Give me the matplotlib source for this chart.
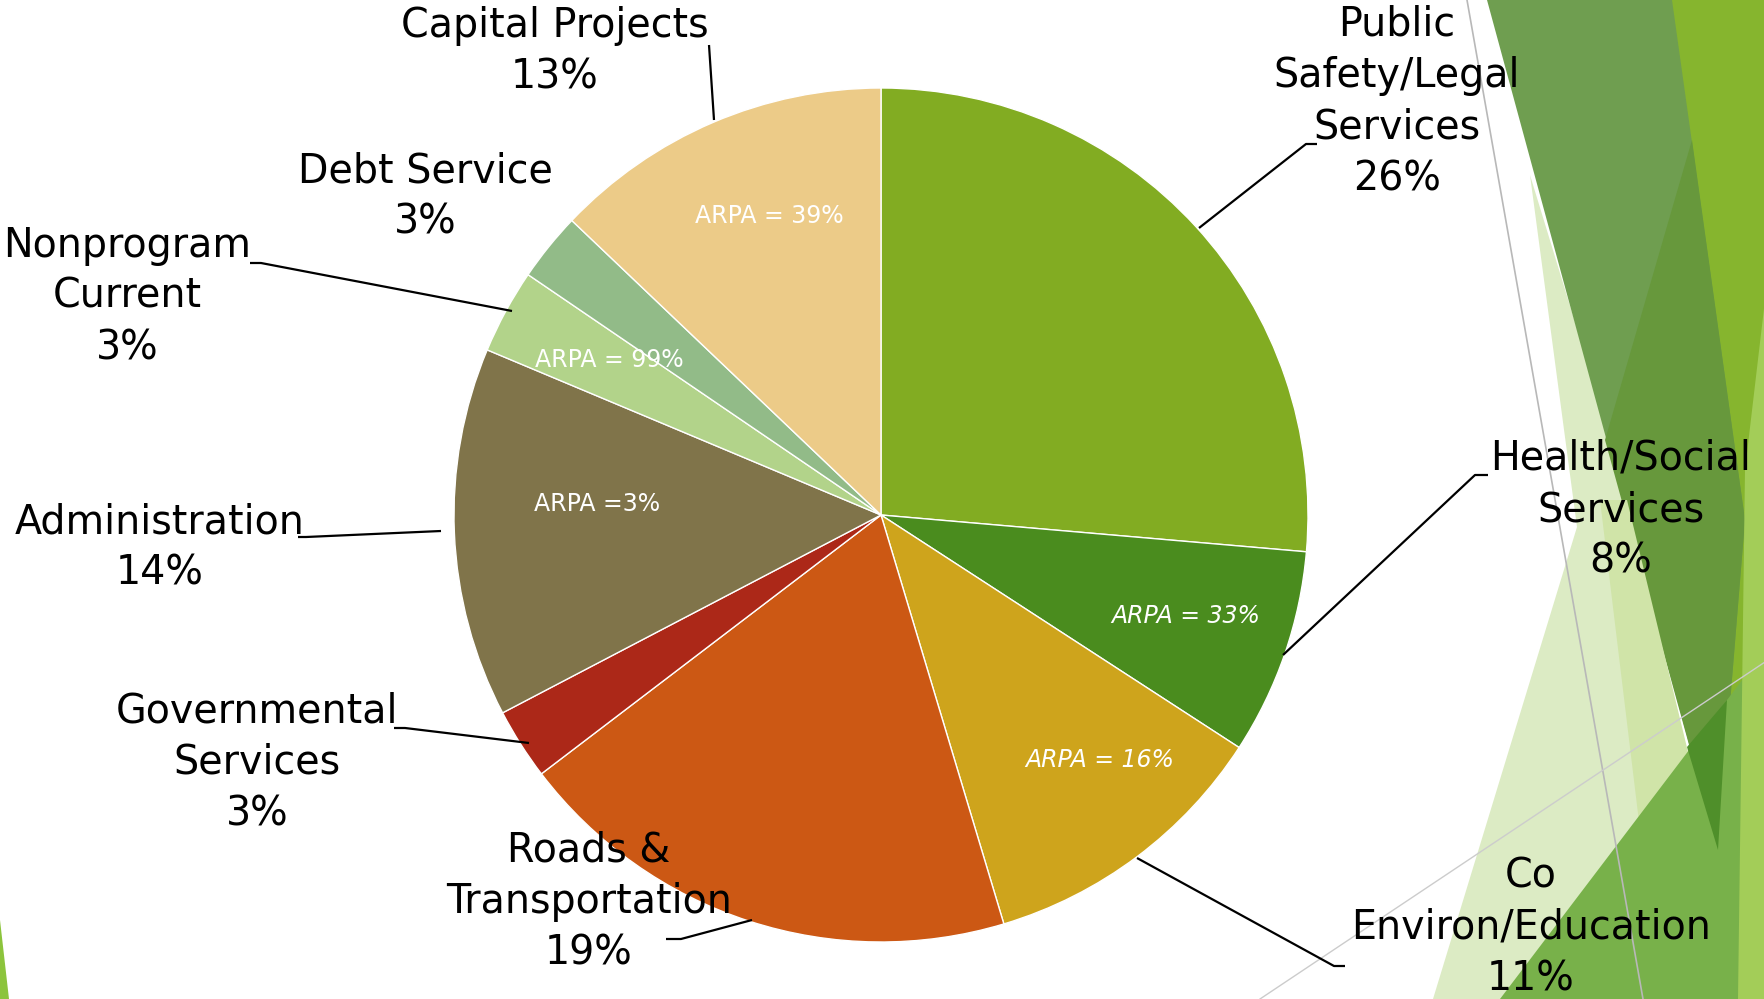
import matplotlib
matplotlib.use("Agg")
import matplotlib.pyplot as plt
from matplotlib.patches import Polygon

# budget shares (percent of total), clockwise from 12 o'clock
categories = ["Public\nSafety/Legal\nServices", "Health/Social\nServices",
              "Co\nEnviron/Education", "Roads &\nTransportation",
              "Governmental\nServices", "Administration", "Nonprogram\nCurrent",
              "Debt Service", "Capital Projects"]
shares = [26.4, 7.8, 11.2, 19.3, 2.7, 14.0, 3.2, 2.6, 12.9]
arpa_notes = ["", "ARPA = 33%", "ARPA = 16%", "", "", "ARPA =3%", "ARPA = 99%", "", "ARPA = 39%"]
arpa_italic = [False, True, True, False, False, False, False, False, False]
colors = ["#82ac22", "#4a8c1e", "#cea41c", "#cc5814", "#ac2818",
          "#80744a", "#b2d38a", "#92bb88", "#eccb88"]

W, H = 1765, 999
fig = plt.figure(figsize=(W / 100, H / 100), dpi=100)
ax = fig.add_axes([0, 0, 1, 1])
plt.rcParams['font.family'] = ['DejaVu Sans']


def Y(y):
    # pixel row (top-down) -> data y
    return H - y


# decorative background shapes on the right (slide theme), back to front
deco = [
    ([(1530, 175), (1660, 600), (1700, 999), (1433, 999), (1577, 527)], "#dcebc4"),
    ([(1660, 0), (1765, 0), (1765, 999), (1700, 999)], "#86b52e"),
    ([(1487, 0), (1672, 0), (1745, 520), (1718, 850)], "#6f9e50"),
    ([(1692, 140), (1745, 520), (1718, 850), (1605, 440)], "#67983c"),
    ([(1600, 500), (1627, 500), (1690, 760), (1640, 830)], "#d0e4a8"),
    ([(1500, 999), (1765, 650), (1765, 999)], "#78b14a"),
    ([(1687, 747), (1727, 700), (1718, 850)], "#4f8f2a"),
    ([(1745, 470), (1765, 300), (1765, 999), (1738, 999)], "#a3cd58"),
    ([(0, 920), (9, 999), (0, 999)], "#8cc43c"),
]
for pts, c in deco:
    ax.add_patch(Polygon([(x, Y(y)) for x, y in pts], closed=True,
                         facecolor=c, edgecolor="none", zorder=0))
ax.plot([1467, 1643], [Y(0), Y(999)], color="#b8b8b8", lw=1.2, zorder=1)
ax.plot([1260, 1765], [Y(999), Y(662)], color="#cccccc", lw=1.0, zorder=1)

ax.pie(shares, colors=colors, startangle=90, counterclock=False,
       center=(881, Y(515)), radius=427,
       wedgeprops=dict(edgecolor="white", linewidth=1.0, zorder=2))

# outside labels: centre of text block (pixel coords)
label_pos = [(1397, 102), (1621, 510), (1531, 928), (589, 902), (257, 763),
             (160, 548), (127, 297), (425, 197), (555, 52)]
for name, v, (x, y) in zip(categories, shares, label_pos):
    ax.text(x, Y(y), f"{name}\n{round(v)}%", ha="center", va="center",
            fontsize=28.5, linespacing=1.37, color="black", zorder=5)

# ARPA notes inside slices
arpa_pos = [None, (1186, 616), (1100, 760), None, None, (597, 504),
            (609, 360), None, (769, 216)]
for note, it, p in zip(arpa_notes, arpa_italic, arpa_pos):
    if note:
        ax.text(p[0], Y(p[1]), note, ha="center", va="center", fontsize=17,
                color="white", style="italic" if it else "normal", zorder=5)

# leader lines
leaders = [
    [(1199, 228), (1306, 144), (1317, 144)],
    [(1283, 655), (1475, 475), (1488, 475)],
    [(1137, 858), (1334, 966), (1345, 966)],
    [(752, 920), (681, 939), (666, 939)],
    [(529, 743), (405, 728), (394, 728)],
    [(441, 531), (306, 537), (298, 537)],
    [(512, 311), (261, 263), (250, 263)],
    [(714, 120), (709, 45)],
]
for pts in leaders:
    ax.plot([p[0] for p in pts], [Y(p[1]) for p in pts], color="black",
            lw=1.6, zorder=4, solid_capstyle="butt")

ax.set_xlim(0, W)
ax.set_ylim(0, H)
ax.set_aspect("auto")
ax.axis("off")
fig.savefig("out.png", dpi=100, facecolor="white")
